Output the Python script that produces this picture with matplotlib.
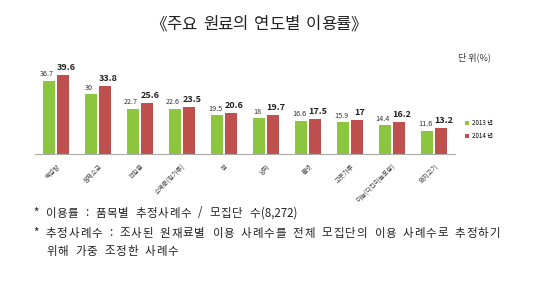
import matplotlib
matplotlib.use("Agg")
import matplotlib.pyplot as plt
import numpy as np
import re

plt.rcParams['font.family'] = ['Noto Sans CJK KR', 'DejaVu Sans']

title = "《주요 원료의 연도별 이용률》"
categories = ["백설탕", "정제소금", "천일염", "소맥분(밀가루)", "쌀", "양파", "물엿", "고춧가루", "마늘(다진마늘포함)", "돼지고기"]
series_names = ["2013 년", "2014 년"]
v2013 = [36.7, 30, 22.7, 22.6, 19.5, 18, 16.6, 15.9, 14.4, 11.6]
v2014 = [39.6, 33.8, 25.6, 23.5, 20.6, 19.7, 17.5, 17, 16.2, 13.2]
unit = "단 위(%)"
notes = ["* 이용률 : 품목별 추정사례수 / 모집단 수(8,272)",
         "* 추정사례수 : 조사된 원재료별 이용 사례수를 전체 모집단의 이용 사례수로 추정하기",
         "위해 가중 조정한 사례수"]

green = "#8cc63f"
red = "#c0504d"

W, H = 540, 282
fig = plt.figure(figsize=(W/100, H/100), dpi=100)
ax = fig.add_axes([35/W, 1-154/H, 420/W, 90/H])
x = np.arange(len(categories))
bw = 0.27
off = 0.165
b1 = ax.bar(x - off, v2013, bw, color=green, label=series_names[0])
b2 = ax.bar(x + off, v2014, bw, color=red, label=series_names[1])
for xi, a, b in zip(x, v2013, v2014):
    ax.text(xi - off - 0.05, a + 1.2, f"{a:g}", ha='center', va='bottom', fontsize=5.2, color='#333333')
    ax.text(xi + off + 0.07, b + 1.5, f"{b:g}", ha='center', va='bottom', fontsize=6.5, fontweight='bold', color='#222222')
ax.set_xlim(-0.5, len(categories) - 0.5)
ax.set_ylim(0, 45)
ax.set_yticks([])
ax.set_xticks(x)
ax.set_xticklabels(categories, rotation=45, ha='right', va='top', fontsize=4.6, color='#444444',
                   rotation_mode='anchor')
ax.tick_params(axis='x', length=0, pad=6)
for s in ['top', 'right', 'left']:
    ax.spines[s].set_visible(False)
ax.spines['bottom'].set_color('#aaaaaa')
ax.spines['bottom'].set_linewidth(0.8)

leg = fig.legend(handles=[b1, b2], loc='upper left', bbox_to_anchor=(465/W, 1-119/H), frameon=False,
                 fontsize=4.5, handlelength=0.6, handleheight=0.6, handletextpad=0.6, labelspacing=0.8,
                 borderpad=0, borderaxespad=0)


def tracked_text(x0, x1, y, text, fontsize, space_em=0.45, **kw):
    """Place characters of text with uniform letter-spacing between x0 and x1 (pixels)."""
    r = fig.canvas.get_renderer()
    tokens = re.findall(r"[ ]|[\x21-\x7e]+|[^\x00-\x7f]", text)
    items = []
    for tk in tokens:
        if tk == " ":
            items.append((None, fontsize * space_em * 100 / 72))
        else:
            o = fig.text(0, 1 - y/H, tk, ha='left', va='center', fontsize=fontsize, **kw)
            items.append((o, o.get_window_extent(r).width))
    gap = (x1 - x0 - sum(w for _, w in items)) / max(len(items) - 1, 1)
    cx = x0
    for o, wd in items:
        if o is not None:
            o.set_x(cx / W)
        cx += wd + gap


tracked_text(150, 367, 25, title, 12, color='#222222')
fig.text(474/W, 1-57/H, unit, ha='center', va='center', fontsize=6.5, color='#333333')
tracked_text(33, 297, 213, notes[0], 8.3, color='#222222')
tracked_text(33, 500, 233, notes[1], 8.3, color='#222222')
tracked_text(46, 178, 251, notes[2], 8.3, color='#222222')

fig.savefig("out.png", dpi=100, facecolor='white')
